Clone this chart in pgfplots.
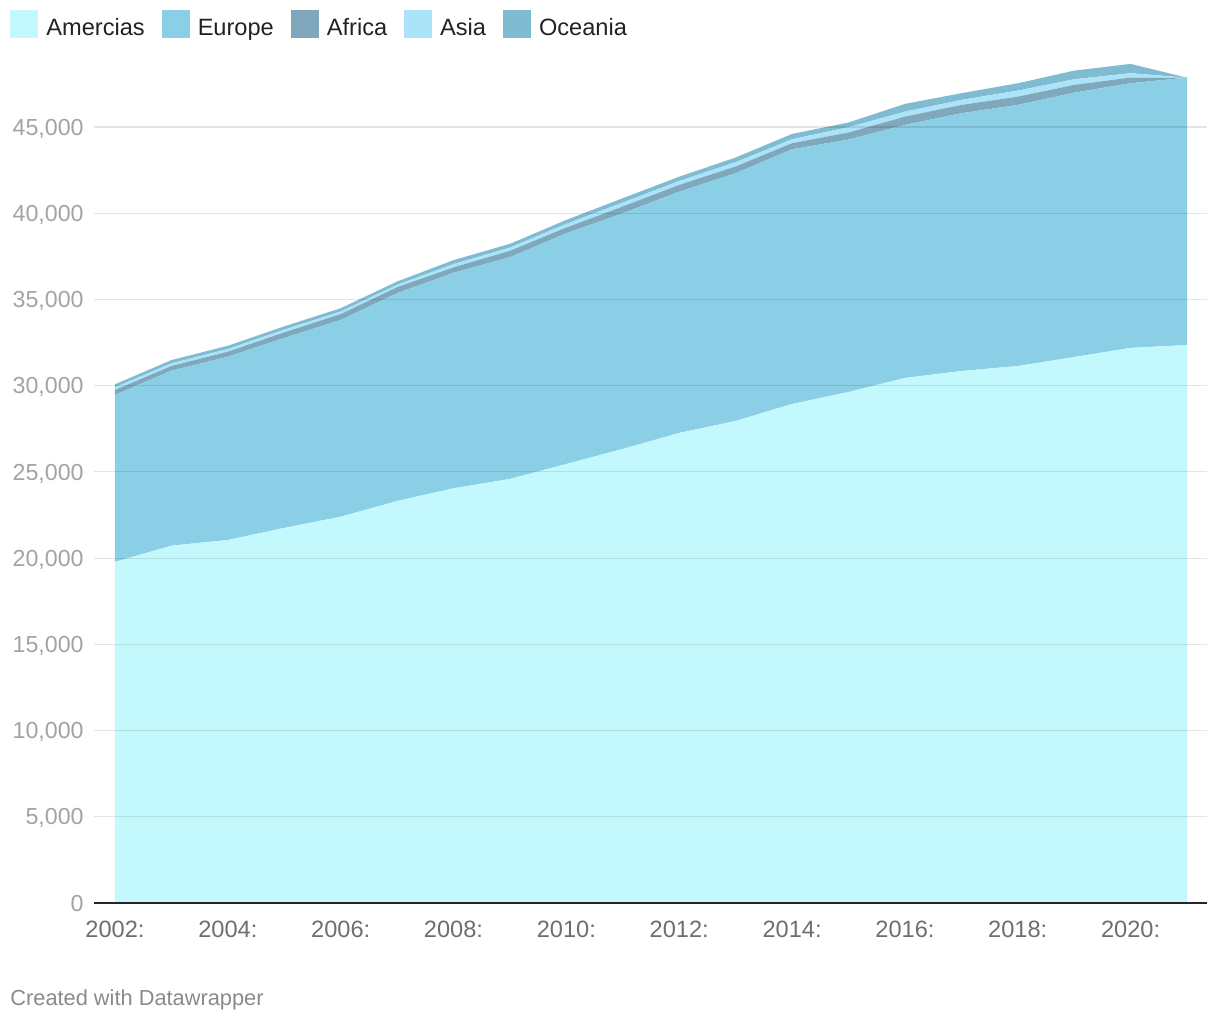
\documentclass[border=0pt]{standalone}
\usepackage{fontspec}
\setmainfont{Liberation Sans}
\usepackage{pgfplots}
\pgfplotsset{compat=1.18}
\usepackage{pgfplotstable}

\definecolor{amercias}{HTML}{C3F8FD}
\definecolor{europe}{HTML}{8BCFE6}
\definecolor{africa}{HTML}{80A8BD}
\definecolor{asia}{HTML}{ABE3F8}
\definecolor{oceania}{HTML}{80BCD1}
\definecolor{ylab}{HTML}{A3A3A3}
\definecolor{xlab}{HTML}{6E6E6E}
\definecolor{foot}{HTML}{8A8A8A}
\definecolor{legtext}{HTML}{222222}

% values per region
\pgfplotstableread{
year amer  europe africa asia oceania
2002 19780 9680   290    155  175
2003 20720 10150  270    155  190
2004 21050 10630  290    155  190
2005 21750 11020  320    160  190
2006 22400 11410  340    150  190
2007 23310 12050  350    140  190
2008 24050 12500  310    190  230
2009 24590 12860  370    190  215
2010 25460 13380  330    215  230
2011 26330 13670  390    230  250
2012 27260 13990  390    230  250
2013 27950 14370  390    250  270
2014 28940 14770  350    230  310
2015 29630 14640  410    310  270
2016 30450 14670  480    290  450
2017 30850 14950  480    290  390
2018 31140 15140  480    350  425
2019 31660 15330  450    330  500
2020 32190 15350  330    250  540
2021 32360 15500  0      0    0
}\regions

\begin{document}
\begin{tikzpicture}
\useasboundingbox (0,0) rectangle (610bp,510bp);
\begin{axis}[
  at={(47bp,58.5bp)}, anchor=south west,
  scale only axis, width=556.5bp, height=431.1bp,
  xmin=2001.628, xmax=2021.354, ymin=0, ymax=50000,
  stack plots=y,
  axis on top,
  axis line style={draw=none},
  major tick length=0pt,
  xtick={2002,2004,...,2020},
  xticklabels={2002:,2004:,2006:,2008:,2010:,2012:,2014:,2016:,2018:,2020:},
  ytick={5000,10000,...,45000},
  extra y ticks={0},
  extra y tick style={grid style={draw=black!85, opacity=1, line width=1.2bp}},
  ymajorgrids,
  grid style={black, opacity=0.1, line width=0.6bp},
  scaled y ticks=false,
  /pgf/number format/1000 sep={,},
  /pgf/number format/assume math mode=true,
  yticklabel style={font=\fontsize{11.6bp}{13bp}\selectfont, text=ylab,
    anchor=base east, inner sep=0pt, xshift=-5bp, yshift=-4.1bp},
  xticklabel style={font=\fontsize{11.8bp}{13bp}\selectfont, text=xlab,
    anchor=base, inner sep=0pt, yshift=-17bp},
  legend columns=-1,
  legend image code/.code={\fill[#1] (0bp,-5.7bp) rectangle (14bp,8.3bp);},
  legend style={at={(axis description cs:0,1)}, anchor=north west,
    xshift=-42bp, yshift=15.4bp, draw=none, fill=none, inner sep=0pt,
    font=\fontsize{11.8bp}{13bp}\selectfont, text=legtext,
    nodes={inner sep=0pt, text height=8.6bp, text depth=0pt},
    /tikz/every odd column/.append style={column sep=4bp},
    /tikz/every even column/.append style={column sep=8.5bp}},
]
\addplot[fill=amercias, draw=none] table[x=year, y=amer] {\regions} \closedcycle;
\addlegendentry{Amercias}
\addplot[fill=europe, draw=none] table[x=year, y=europe] {\regions} \closedcycle;
\addlegendentry{Europe}
\addplot[fill=africa, draw=none] table[x=year, y=africa] {\regions} \closedcycle;
\addlegendentry{Africa}
\addplot[fill=asia, draw=none] table[x=year, y=asia] {\regions} \closedcycle;
\addlegendentry{Asia}
\addplot[fill=oceania, draw=none] table[x=year, y=oceania] {\regions} \closedcycle;
\addlegendentry{Oceania}
\end{axis}
\node[anchor=base west, inner sep=0pt, text=foot,
  font=\fontsize{10.9bp}{12bp}\selectfont] at (5bp,7.5bp) {Created with Datawrapper};
\end{tikzpicture}
\end{document}
